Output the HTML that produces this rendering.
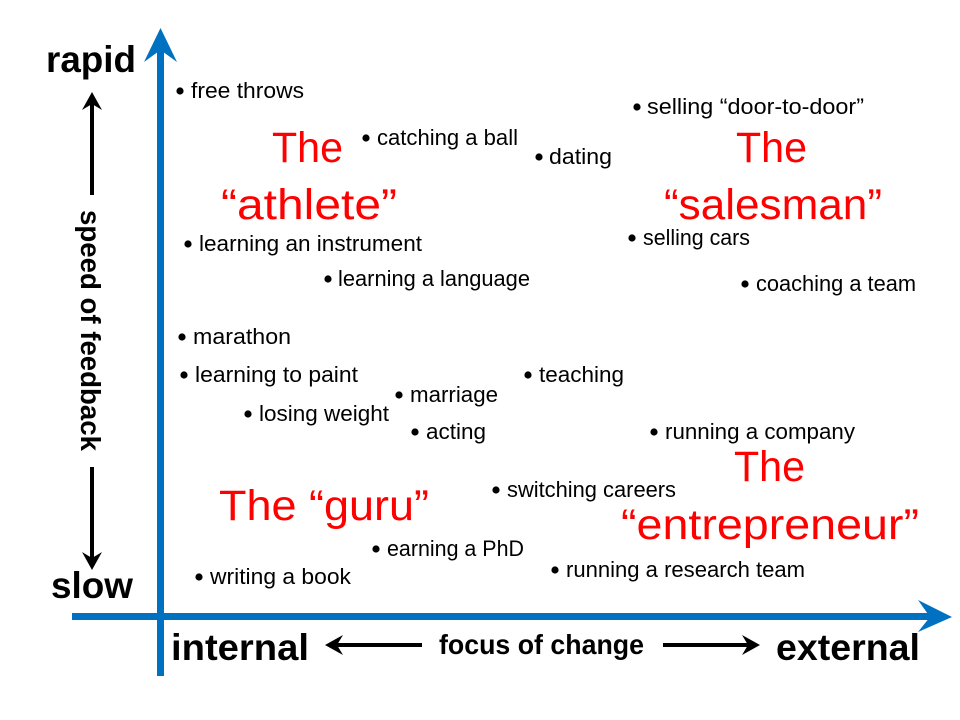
<!DOCTYPE html>
<html>
<head>
<meta charset="utf-8">
<style>
html,body{margin:0;padding:0;background:#fff;width:960px;height:720px;overflow:hidden}
svg{display:block}
text{font-family:"Liberation Sans",sans-serif}
.l{font-size:22px;fill:#000}
.r{font-size:43px;fill:#f00}
.b{font-weight:bold;fill:#000}
</style>
</head>
<body>
<svg width="960" height="720" viewBox="0 0 960 720" xmlns="http://www.w3.org/2000/svg">
<rect width="960" height="720" fill="#fff"/>
<!-- blue axes -->
<rect x="157" y="45" width="7" height="631" fill="#0070c0"/>
<polygon points="160.5,28 177,62 160.5,50 144,62" fill="#0070c0"/>
<rect x="72" y="613" width="870" height="7" fill="#0070c0"/>
<polygon points="952,617 918,600 930,617 918,632" fill="#0070c0"/>
<!-- black arrows -->
<rect x="90" y="100" width="4" height="95" fill="#000"/>
<polygon points="92,92 102,110 92,104 82,110" fill="#000"/>
<rect x="90" y="467" width="4" height="95" fill="#000"/>
<polygon points="92,570 102,552 92,558 82,552" fill="#000"/>
<rect x="333" y="643" width="89" height="4" fill="#000"/>
<polygon points="325,645 343,635 337,645 343,655" fill="#000"/>
<rect x="663" y="643" width="89" height="4" fill="#000"/>
<polygon points="760,645 742,635 748,645 742,655" fill="#000"/>
<!-- axis labels -->
<text class="b" x="46" y="72" font-size="37" textLength="90" lengthAdjust="spacingAndGlyphs">rapid</text>
<text class="b" x="51" y="598" font-size="37" textLength="82" lengthAdjust="spacingAndGlyphs">slow</text>
<text class="b" x="171" y="660" font-size="37" textLength="138" lengthAdjust="spacingAndGlyphs">internal</text>
<text class="b" x="776" y="660" font-size="37" textLength="144" lengthAdjust="spacingAndGlyphs">external</text>
<text class="b" x="439" y="654" font-size="28" textLength="205" lengthAdjust="spacingAndGlyphs">focus of change</text>
<text class="b" transform="translate(81,210) rotate(90)" font-size="28" textLength="241" lengthAdjust="spacingAndGlyphs">speed of feedback</text>
<!-- red labels -->
<text class="r" x="272" y="162" textLength="71" lengthAdjust="spacingAndGlyphs">The</text>
<text class="r" x="221" y="219" textLength="176" lengthAdjust="spacingAndGlyphs">“athlete”</text>
<text class="r" x="736" y="162" textLength="71" lengthAdjust="spacingAndGlyphs">The</text>
<text class="r" x="664" y="219" textLength="218" lengthAdjust="spacingAndGlyphs">“salesman”</text>
<text class="r" x="219" y="520" textLength="210" lengthAdjust="spacingAndGlyphs">The “guru”</text>
<text class="r" x="734" y="481" textLength="71" lengthAdjust="spacingAndGlyphs">The</text>
<text class="r" x="621" y="539" textLength="298" lengthAdjust="spacingAndGlyphs">“entrepreneur”</text>
<!-- bullets -->
<g fill="#000">
<circle cx="180" cy="91" r="3.6"/>
<circle cx="366" cy="138" r="3.6"/>
<circle cx="637" cy="107" r="3.6"/>
<circle cx="539" cy="157" r="3.6"/>
<circle cx="632" cy="238" r="3.6"/>
<circle cx="188" cy="244" r="3.6"/>
<circle cx="328" cy="279" r="3.6"/>
<circle cx="745" cy="284" r="3.6"/>
<circle cx="182" cy="337" r="3.6"/>
<circle cx="184" cy="375" r="3.6"/>
<circle cx="528" cy="375" r="3.6"/>
<circle cx="399" cy="395" r="3.6"/>
<circle cx="248" cy="414" r="3.6"/>
<circle cx="415" cy="432" r="3.6"/>
<circle cx="654" cy="432" r="3.6"/>
<circle cx="496" cy="490" r="3.6"/>
<circle cx="376" cy="549" r="3.6"/>
<circle cx="555" cy="570" r="3.6"/>
<circle cx="199" cy="577" r="3.6"/>
</g>
<!-- item labels -->
<text class="l" x="191" y="98" textLength="113" lengthAdjust="spacingAndGlyphs">free throws</text>
<text class="l" x="377" y="145" textLength="141" lengthAdjust="spacingAndGlyphs">catching a ball</text>
<text class="l" x="647" y="114" textLength="217" lengthAdjust="spacingAndGlyphs">selling “door-to-door”</text>
<text class="l" x="549" y="164" textLength="63" lengthAdjust="spacingAndGlyphs">dating</text>
<text class="l" x="643" y="245" textLength="107" lengthAdjust="spacingAndGlyphs">selling cars</text>
<text class="l" x="199" y="251" textLength="223" lengthAdjust="spacingAndGlyphs">learning an instrument</text>
<text class="l" x="338" y="286" textLength="192" lengthAdjust="spacingAndGlyphs">learning a language</text>
<text class="l" x="756" y="291" textLength="160" lengthAdjust="spacingAndGlyphs">coaching a team</text>
<text class="l" x="193" y="344" textLength="98" lengthAdjust="spacingAndGlyphs">marathon</text>
<text class="l" x="195" y="382" textLength="163" lengthAdjust="spacingAndGlyphs">learning to paint</text>
<text class="l" x="539" y="382" textLength="85" lengthAdjust="spacingAndGlyphs">teaching</text>
<text class="l" x="410" y="402" textLength="88" lengthAdjust="spacingAndGlyphs">marriage</text>
<text class="l" x="259" y="421" textLength="130" lengthAdjust="spacingAndGlyphs">losing weight</text>
<text class="l" x="426" y="439" textLength="60" lengthAdjust="spacingAndGlyphs">acting</text>
<text class="l" x="665" y="439" textLength="190" lengthAdjust="spacingAndGlyphs">running a company</text>
<text class="l" x="507" y="497" textLength="169" lengthAdjust="spacingAndGlyphs">switching careers</text>
<text class="l" x="387" y="556" textLength="137" lengthAdjust="spacingAndGlyphs">earning a PhD</text>
<text class="l" x="566" y="577" textLength="239" lengthAdjust="spacingAndGlyphs">running a research team</text>
<text class="l" x="210" y="584" textLength="141" lengthAdjust="spacingAndGlyphs">writing a book</text>
</svg>
</body>
</html>
